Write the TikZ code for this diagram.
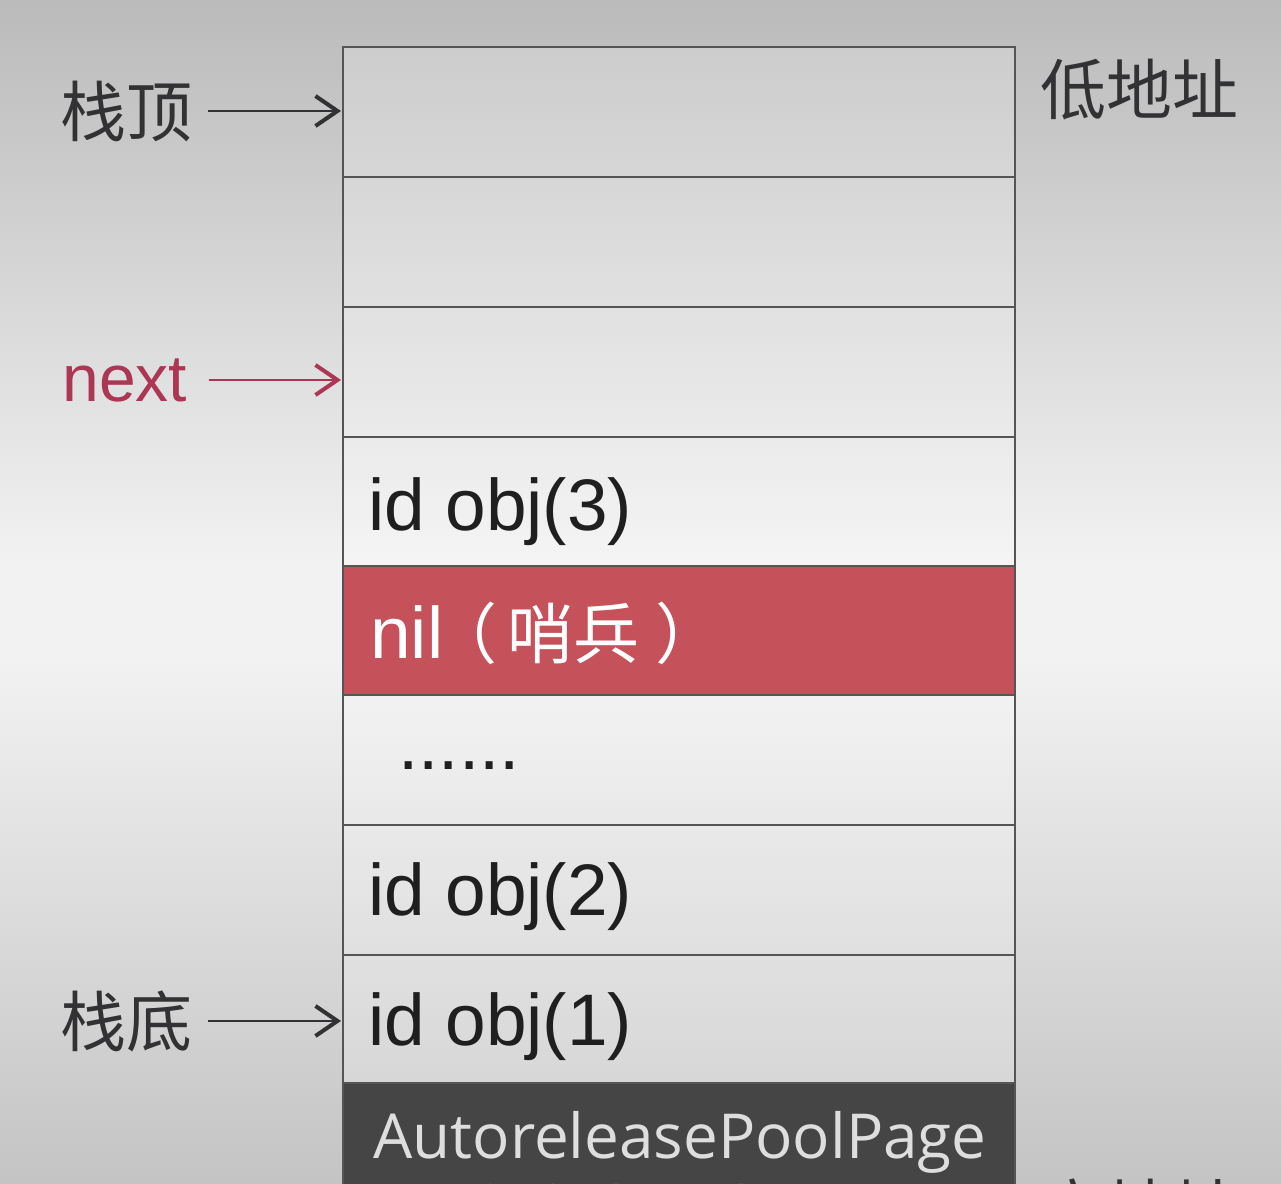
\documentclass[tikz,border=0pt]{standalone}
\usepackage{fontspec}
\setmainfont{Liberation Sans}
\newfontfamily\cjk{Noto Sans CJK SC}
\newfontfamily\opensans{Open Sans}
\usetikzlibrary{arrows.meta}
\definecolor{cellline}{RGB}{85,85,87}
\definecolor{sentinel}{RGB}{197,81,91}
\definecolor{darkbox}{RGB}{69,69,69}
\definecolor{nextred}{RGB}{172,55,85}
\definecolor{lbl}{RGB}{50,50,52}
\begin{document}
\begin{tikzpicture}[x=0.5pt,y=-0.5pt,
  cell/.style={draw=cellline, line width=1.2pt, fill=white, fill opacity=0.22,
    minimum width=336pt, minimum height=65pt, anchor=north west, inner sep=0pt, outer sep=0pt},
  celltext/.style={anchor=base west, inner sep=0pt, text=black!88,
    font=\fontsize{36.5}{40}\selectfont},
  sidelbl/.style={anchor=base west, inner sep=0pt, text=lbl,
    font=\cjk\fontsize{33}{36}\selectfont},
  arr/.style={-{Straight Barb[length=11pt,width=15pt,line width=2pt]}, line width=1.3pt, shorten <=7.5pt, shorten >=1pt}
]
\useasboundingbox (0,0) rectangle (1281,1184);
\clip (0,0) rectangle (1281,1184);
% background gradient (light band around the middle)
\foreach \i in {0,...,147} {
  \pgfmathsetmacro\tt{\i/70}
  \pgfmathsetmacro\uu{(\i-82)/65}
  \pgfmathsetmacro\gv{(\i<70 ? 0.733+0.216*\tt : (\i<82 ? 0.949 : 0.949-0.18*\uu))}
  \definecolor{bgstrip}{gray}{\gv}
  \fill[bgstrip] (0,8*\i) rectangle (1281,8*\i+8.6);
}

% stack cells
\node[cell] (c1) at (343,47) {};
\node[cell] (c2) at (343,177) {};
\node[cell] (c3) at (343,307) {};
\node[cell] (c4) at (343,437) {};
\node[cell, fill=sentinel, fill opacity=1, minimum height=64.5pt] (c5) at (343,566) {};
\node[cell] (c6) at (343,695) {};
\node[cell] (c7) at (343,825) {};
\node[cell, minimum height=64pt] (c8) at (343,955) {};
\node[cell, fill=darkbox, fill opacity=1, minimum height=75pt] (c9) at (343,1083) {};

% cell texts
\node[celltext] (t4) at (368,530) {id obj(3)};
\node[celltext, text=white] (t5) at (370,658) {nil{\cjk\fontsize{33}{36}\selectfont\hspace{-6pt}（\hspace{5pt}哨兵\hspace{8pt}）}};
\node[celltext] (t6) at (398,769) {......};
\node[celltext] (t7) at (368,915) {id obj(2)};
\node[celltext] (t8) at (368,1045) {id obj(1)};
\node[anchor=base west, inner sep=0pt, text=black!13, font=\opensans\fontsize{31}{34}\selectfont] (t9) at (373,1158) {AutoreleasePoolPage};
\node[anchor=base, inner sep=0pt, text=black!13, font=\cjk\fontsize{31}{34}\selectfont] (t9b) at (648,1236) {自身占用内存};

% side labels
\node[sidelbl] (top) at (60,136) {栈顶};
\node[sidelbl, text=nextred, font=\fontsize{33}{36}\selectfont] (nx) at (62,401) {next};
\node[sidelbl] (bot) at (60,1046) {栈底};
\node[sidelbl] (low) at (1040,114) {低地址};
\node[sidelbl] (high) at (1040,1234) {高地址};

% arrows
\draw[arr, draw=lbl] (top.east) -- (top.east -| c1.west);
\draw[arr, draw=nextred, shorten <=10.5pt] (nx.east) -- (nx.east -| c3.west);
\draw[arr, draw=lbl] (bot.east) -- (bot.east -| c8.west);
\end{tikzpicture}
\end{document}
